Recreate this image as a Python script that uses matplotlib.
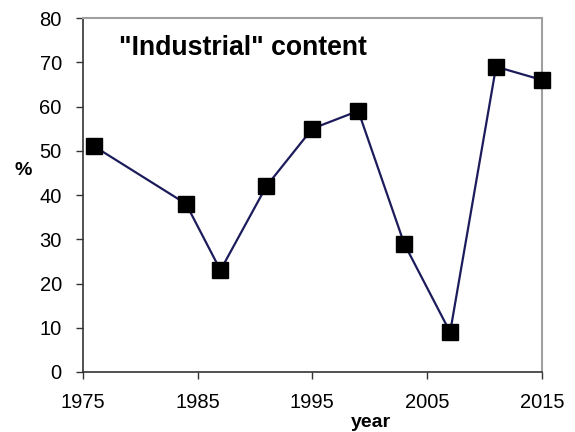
import matplotlib
matplotlib.use("Agg")
import matplotlib.pyplot as plt

years = [1976, 1984, 1987, 1991, 1995, 1999, 2003, 2007, 2011, 2015]
values = [51, 38, 23, 42, 55, 59, 29, 9, 69, 66]
xticks = [1975, 1985, 1995, 2005, 2015]
yticks = [0, 10, 20, 30, 40, 50, 60, 70, 80]

plt.rcParams['font.family'] = ['Liberation Sans', 'DejaVu Sans']

fig = plt.figure(figsize=(5.75, 4.32), dpi=100)
ax = fig.add_axes([0.1438, 0.1389, 0.9426 - 0.1438, 0.9583 - 0.1389])

ax.plot(years, values, color='#1c1c5c', lw=1.6, marker='s', ms=12,
        mfc='black', mec='black', zorder=3, clip_on=False)

ax.set_xlim(1975, 2015)
ax.set_ylim(0, 80)
ax.set_xticks(xticks)
ax.set_yticks(yticks)
ax.tick_params(axis='both', direction='out', length=5, width=1, labelsize=14.5, color='#333333')
ax.tick_params(axis='x', pad=10)
ax.tick_params(axis='y', pad=10)

for s in ['left', 'bottom']:
    ax.spines[s].set_color('#333333')
    ax.spines[s].set_linewidth(1.2)
for s in ['top', 'right']:
    ax.spines[s].set_color('#a0a0a0')
    ax.spines[s].set_linewidth(1.5)

ax.text(0.0797, 0.8955, '"Industrial" content', transform=ax.transAxes,
        fontsize=19.2, fontweight='bold', ha='left', va='baseline')
ax.text(0.6277, -0.154, 'year', transform=ax.transAxes,
        fontsize=14, fontweight='bold', ha='center', va='baseline')
ax.text(-0.129, 0.5706, '%', transform=ax.transAxes,
        fontsize=14, fontweight='bold', ha='center', va='center')

fig.savefig('out.png', dpi=100)
